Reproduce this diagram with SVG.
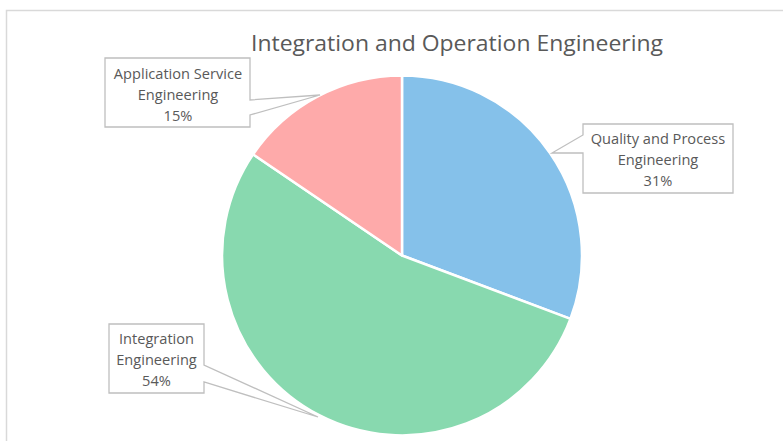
<svg xmlns="http://www.w3.org/2000/svg" width="783" height="441" viewBox="0 0 783 441">
<style>
.lbl{font-family:"Open Sans","Liberation Sans",sans-serif;font-size:14.6px;fill:#595959;text-anchor:middle}
.ttl{font-family:"Open Sans","Liberation Sans",sans-serif;font-size:21.5px;fill:#595959;text-anchor:middle}
.box{fill:#fff;stroke:#BFBFBF;stroke-width:1.3}
.slice{stroke:#fff;stroke-width:2.5;stroke-linejoin:round}
</style>
<rect x="0" y="0" width="783" height="441" fill="#fff"/>
<rect x="6.5" y="10.5" width="820" height="500" fill="none" stroke="#D9D9D9" stroke-width="1.5"/>
<text class="ttl" x="457" y="51" textLength="412" lengthAdjust="spacingAndGlyphs">Integration and Operation Engineering</text>
<g id="pie">
<g id="slice-quality"><path class="slice" d="M402,255.5 L402,75.5 A180,180 0 0 1 570.5,318.8 Z" fill="#85C1EA"/></g>
<g id="slice-integration"><path class="slice" d="M402,255.5 L570.5,318.8 A180,180 0 1 1 253.1,154.3 Z" fill="#88D9AF"/></g>
<g id="slice-application"><path class="slice" d="M402,255.5 L253.1,154.3 A180,180 0 0 1 402,75.5 Z" fill="#FEAAAA"/></g>
</g>
<g id="connectors">
</g>
<g id="label-application">
<path class="box" d="M105,58 H250 V100 L320,95 L250,115 V127 H105 Z"/>
<text class="lbl" x="178" y="79">Application Service</text>
<text class="lbl" x="178" y="100">Engineering</text>
<text class="lbl" x="178" y="121">15%</text>
</g>
<g id="label-quality">
<path class="box" d="M583,124 H733 V193 H583 V153 H552 L583,135 Z"/>
<text class="lbl" x="658" y="144">Quality and Process</text>
<text class="lbl" x="658" y="165">Engineering</text>
<text class="lbl" x="658" y="186">31%</text>
</g>
<g id="label-integration">
<path class="box" d="M109,324 H204 V365 L318,417 L204,382 V393 H109 Z"/>
<text class="lbl" x="156.5" y="344">Integration</text>
<text class="lbl" x="156.5" y="365">Engineering</text>
<text class="lbl" x="156.5" y="386">54%</text>
</g>
</svg>
